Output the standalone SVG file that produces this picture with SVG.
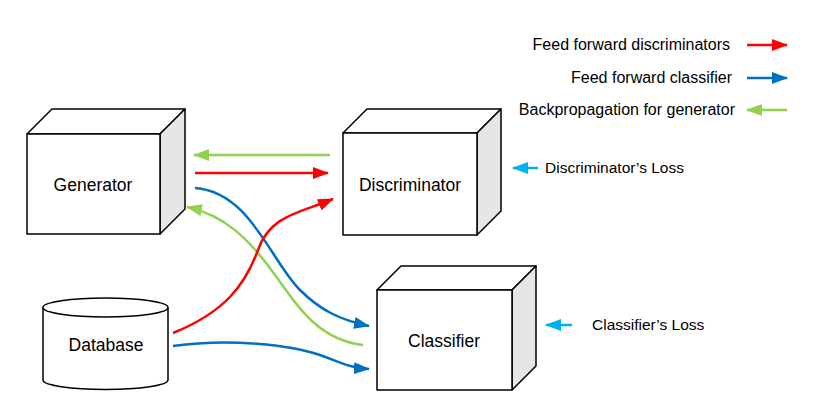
<svg xmlns="http://www.w3.org/2000/svg" width="831" height="417" viewBox="0 0 831 417">
<style>
text{font-family:"Liberation Sans",Arial,sans-serif;fill:#000}
.lbl{font-size:17.5px;text-anchor:middle}
.leg{font-size:16px;text-anchor:end}
.loss{font-size:15.5px}
.front,.top{fill:#fff;stroke:#000;stroke-width:1.5;stroke-linejoin:round}
.side{fill:#e6e6e6;stroke:#000;stroke-width:1.5;stroke-linejoin:round}
.c{fill:none;stroke-width:2.5}
.r{stroke:#ff0000}.b{stroke:#0070c0}.g{stroke:#92d050}.lb{stroke:#00b0f0}
</style>
<defs>
<marker id="ar" markerUnits="userSpaceOnUse" markerWidth="17" markerHeight="13" refX="15" refY="6.5" orient="auto"><path d="M0,0.5 L16,6.5 L0,12.5 z" fill="#ff0000"/></marker>
<marker id="ab" markerUnits="userSpaceOnUse" markerWidth="17" markerHeight="13" refX="15" refY="6.5" orient="auto"><path d="M0,0.5 L16,6.5 L0,12.5 z" fill="#0070c0"/></marker>
<marker id="ag" markerUnits="userSpaceOnUse" markerWidth="17" markerHeight="13" refX="15" refY="6.5" orient="auto"><path d="M0,0.5 L16,6.5 L0,12.5 z" fill="#92d050"/></marker>
<marker id="al" markerUnits="userSpaceOnUse" markerWidth="17" markerHeight="13" refX="15" refY="6.5" orient="auto"><path d="M0,0.5 L16,6.5 L0,12.5 z" fill="#00b0f0"/></marker>
</defs>

<g id="generator">
<polygon class="top" points="27,134 52,109 185,109 160,134"/>
<polygon class="side" points="160,134 185,109 185,209 160,234"/>
<rect class="front" x="27" y="134" width="133" height="100"/>
<text class="lbl" x="93" y="191">Generator</text>
</g>

<g id="discriminator">
<polygon class="top" points="343,133 367,109 501,109 477,133"/>
<polygon class="side" points="477,133 501,109 501,211 477,235"/>
<rect class="front" x="343" y="133" width="134" height="102"/>
<text class="lbl" x="410" y="191">Discriminator</text>
</g>

<g id="classifier">
<polygon class="top" points="377,290 401,266 536,266 512,290"/>
<polygon class="side" points="512,290 536,266 536,366 512,390"/>
<rect class="front" x="377" y="290" width="135" height="100"/>
<text class="lbl" x="444" y="347">Classifier</text>
</g>

<g id="database">
<path class="front" d="M43,307.5 L43,380 A62.5,9.5 0 0 0 168,380 L168,307.5"/>
<ellipse class="front" cx="105.5" cy="307.5" rx="62.5" ry="9.5"/>
<text class="lbl" x="106" y="351">Database</text>
</g>

<g id="legend">
<text class="leg" x="730" y="50">Feed forward discriminators</text>
<text class="leg" x="732" y="83">Feed forward classifier</text>
<text class="leg" x="735" y="115">Backpropagation for generator</text>
<path class="c r" d="M747,45 L787,45" marker-end="url(#ar)"/>
<path class="c b" d="M747,78 L787,78" marker-end="url(#ab)"/>
<path class="c g" d="M787,110 L747,110" marker-end="url(#ag)"/>
</g>

<g id="losses">
<path class="c lb" d="M538,168 L513,168" marker-end="url(#al)"/>
<text class="loss" x="545" y="173">Discriminator’s Loss</text>
<path class="c lb" d="M572,325 L546,325" marker-end="url(#al)"/>
<text class="loss" x="592" y="330">Classifier’s Loss</text>
</g>

<g id="connectors">
<path class="c g" d="M330,155 L194,155" marker-end="url(#ag)"/>
<path class="c r" d="M195,173 L328,173" marker-end="url(#ar)"/>
<path class="c b" d="M195,188 C250,192 270,260 300,290 C320,310 340,320 369,326" marker-end="url(#ab)"/>
<path class="c g" d="M363,345 C320,340 300,310 275,275 C250,240 225,215 187,207" marker-end="url(#ag)"/>
<path class="c r" d="M173,333 C225,312 245,285 258,250 C270,215 300,213 333,199" marker-end="url(#ar)"/>
<path class="c b" d="M173,346 C230,338 290,345 320,355 C340,362 350,368 369,369" marker-end="url(#ab)"/>
</g>
</svg>
